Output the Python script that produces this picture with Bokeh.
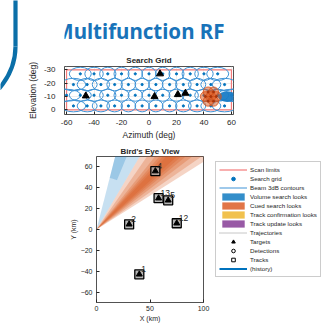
import numpy as np
from bokeh.plotting import figure
from bokeh.models import Range1d, Legend, LegendItem, Label
from bokeh.layouts import row, column
from bokeh.embed import file_html
from bokeh.resources import INLINE
from bokeh.core.properties import value

# ---------------- data ----------------
title_text = "Multifunction RF"

# Search grid (azimuth / elevation, deg)
grid_rows_el = [-27, -19, -11, -3]
grid_rows_az = [
    [-50, -40, -30, -20, -10, 0, 10, 20, 30, 40, 50],
    [-55, -45, -35, -25, -15, -5, 5, 15, 25, 35, 45, 55],
    [-60, -50, -40, -30, -20, -10, 0, 10, 20, 30, 40, 50, 60],
    [-55, -45, -35, -25, -15, -5, 5, 15, 25, 35, 45, 55],
]
scan_az_limits = [-60, 60]
scan_el_limits = [-30, 0]
sg_target_az = [-46, 4, 8, 21, 26.5]
sg_target_el = [-10.5, -10, -27, -11.5, -12.5]
cued_az = [45, 41, 49, 43, 47, 43, 47]
cued_el = [-10, -10, -10, -13.5, -13.5, -6.5, -6.5]
volume_az = [57]
volume_el = [-10]
sg_xticks = [-60, -40, -20, 0, 20, 40, 60]
sg_xtick_labels = ["-60", "-40", "-20", "0", "20", "40", "60"]
sg_yticks = [-30, -20, -10, 0]
sg_ytick_labels = ["-30", "-20", "-10", "0"]

# Bird's eye view (km)
bev_x = [40, 30.5, 55, 67, 58, 75]
bev_y = [-43, 5, 56, 28, 30, 6]
track_ids = ["1", "2", "4", "5", "13", "12"]
volume_wedge_start = [60, 68]
volume_wedge_end = [76, 76]
volume_wedge_r0 = [0, 51]
cued_wedge_start = [33, 35.5, 38, 40, 41.5, 43]
cued_wedge_end = [60, 56, 52, 50, 48.5, 47]
bev_xticks = [0, 50, 100]
bev_yticks = [-60, -40, -20, 0, 20, 40, 60]

legend_labels = ["Scan limits", "Search grid", "Beam 3dB contours",
                 "Volume search looks", "Cued search looks",
                 "Track confirmation looks", "Track update looks",
                 "Trajectories", "Targets", "Detections", "Tracks", "(history)"]

# ---------------- styles ----------------
FONT = "Liberation Sans"
AX = "#262626"
BLUE = "#0072BD"
ORANGE = "#D95319"
YELLOW = "#EDB120"
PURPLE = "#7E2F8E"
SCAN = "#F47A7A"
CONTOUR = "#3F93D6"


def style_axes(p, fs_tick, fs_label):
    p.outline_line_color = AX
    p.outline_line_width = 0.8
    for ax in (p.xaxis[0], p.yaxis[0]):
        ax.axis_line_color = None
        ax.major_tick_in = 3
        ax.major_tick_out = 0
        ax.major_tick_line_color = AX
        ax.minor_tick_line_color = None
        ax.major_label_text_font = FONT
        ax.major_label_text_font_size = fs_tick
        ax.major_label_text_color = AX
        ax.axis_label_text_font = FONT
        ax.axis_label_text_font_size = fs_label
        ax.axis_label_text_font_style = "normal"
        ax.axis_label_text_color = AX
    p.title.text_font = FONT
    p.title.text_font_size = "8px"
    p.title.text_font_style = "bold"
    p.title.text_color = AX
    p.title.align = "center"


def blank(p):
    p.outline_line_color = None
    p.grid.visible = False


# ---------------- left bracket strip ----------------
strip = figure(width=22, height=90, x_range=Range1d(0, 22), y_range=Range1d(90, 0),
               min_border=0, x_axis_location=None, y_axis_location=None,
               output_backend="svg", toolbar_location=None)
blank(strip)
strip.segment(x0=[15], y0=[-5], x1=[15], y1=[46], line_color="#0b6fa8", line_width=4.2)
strip.quadratic(x0=[15], y0=[46], x1=[-3], y1=[90], cx=[15], cy=[70],
                line_color="#0b6fa8", line_width=4.2)

# ---------------- header ----------------
header = figure(width=300, height=48, x_range=Range1d(22, 322), y_range=Range1d(48, 0),
                min_border=0, x_axis_location=None, y_axis_location=None,
                output_backend="svg", toolbar_location=None)
blank(header)
header.add_layout(Label(x=155, y=30, text=title_text, text_font="Noto Sans",
                        text_font_style="bold", text_font_size="20.5px", text_color="#1873b9",
                        text_align="center", text_baseline="alphabetic"))

# ---------------- search grid ----------------
sg = figure(width=300, height=94, x_range=Range1d(-61.5, 61.5), y_range=Range1d(3.4, -32.5),
            min_border_left=42, min_border_right=89, min_border_top=18, min_border_bottom=26,
            title="Search Grid", output_backend="svg", toolbar_location=None)
style_axes(sg, "8px", "8.5px")
sg.title.standoff = 4
sg.xaxis.ticker = sg_xticks
sg.xaxis.major_label_overrides = dict(zip(sg_xticks, sg_xtick_labels))
sg.yaxis.ticker = sg_yticks
sg.yaxis.major_label_overrides = dict(zip(sg_yticks, sg_ytick_labels))
sg.xaxis.axis_label = "Azimuth (deg)"
sg.yaxis.axis_label = "Elevation (deg)"
sg.xaxis.major_label_standoff = 5
sg.xaxis.axis_label_standoff = 2
sg.yaxis.major_label_standoff = 9
sg.yaxis.axis_label_standoff = 3
sg.grid.grid_line_color = "#e3e3e3"
sg.grid.grid_line_width = 0.6

g_az, g_el = [], []
for el, azs in zip(grid_rows_el, grid_rows_az):
    for az in azs:
        g_az.append(az)
        g_el.append(el)
g_az = np.array(g_az, dtype=float)
g_el = np.array(g_el, dtype=float)
beam_w = 10.3 / np.cos(np.radians(g_az))
beam_h = 8.8 / np.cos(np.radians(g_el))

sx = [scan_az_limits[0], scan_az_limits[1], scan_az_limits[1], scan_az_limits[0], scan_az_limits[0]]
sy = [scan_el_limits[0], scan_el_limits[0], scan_el_limits[1], scan_el_limits[1], scan_el_limits[0]]
sg.line(sx, sy, line_color=SCAN, line_width=1.2)
sg.ellipse(x=g_az, y=g_el, width=beam_w, height=beam_h, fill_color=None,
           line_color=CONTOUR, line_width=1.0)
sg.scatter(g_az, g_el, size=2.2, color=BLUE)
sg.ellipse(x=volume_az, y=volume_el, width=13, height=8, fill_color="#1a7cc6",
           fill_alpha=0.95, line_color=None)
sg.circle(x=cued_az, y=cued_el, radius=3.6, fill_color=ORANGE, fill_alpha=0.5,
          line_color=ORANGE, line_width=0.8)
sg.scatter(cued_az, cued_el, size=2, color="#a8340c")
sg.scatter(sg_target_az, sg_target_el, marker="triangle", size=7, color="black")

# ---------------- bird's eye view ----------------
bev = figure(width=188, height=182, x_range=Range1d(0, 100), y_range=Range1d(-70, 70),
             min_border_left=74, min_border_right=7, min_border_top=14, min_border_bottom=21,
             title="Bird's Eye View", output_backend="svg", toolbar_location=None)
style_axes(bev, "7px", "7px")
bev.title.standoff = 2
bev.grid.visible = False
bev.xaxis.ticker = bev_xticks
bev.yaxis.ticker = bev_yticks
bev.xaxis.axis_label = "X (km)"
bev.yaxis.axis_label = "Y (km)"
bev.xaxis.major_label_standoff = 3
bev.xaxis.axis_label_standoff = 1
bev.yaxis.major_label_standoff = 4
bev.yaxis.axis_label_standoff = 1


def wedge_poly(a0, a1, r0, r1=130, n=40):
    t = np.radians(np.linspace(a0, a1, n))
    xo, yo = r1 * np.cos(t), r1 * np.sin(t)
    if r0 == 0:
        return [0.0, *xo], [0.0, *yo]
    xi, yi = r0 * np.cos(t[::-1]), r0 * np.sin(t[::-1])
    return [*xo, *xi], [*yo, *yi]


vxs, vys = zip(*[wedge_poly(a, b, r) for a, b, r in
                 zip(volume_wedge_start, volume_wedge_end, volume_wedge_r0)])
bev.patches(list(vxs), list(vys), fill_color=BLUE, fill_alpha=0.22, line_color=None)
cxs, cys = zip(*[wedge_poly(a, b, 0) for a, b in zip(cued_wedge_start, cued_wedge_end)])
bev.patches(list(cxs), list(cys), fill_color=ORANGE, fill_alpha=0.25, line_color=None)

bev.scatter(bev_x, bev_y, marker="square", size=9, fill_color="#a8a8a8", fill_alpha=0.85,
            line_color="black", line_width=1.3)
bev.scatter(bev_x, bev_y, marker="triangle", size=6, color="black")
bev.text(bev_x, bev_y, text=track_ids, x_offset=2, y_offset=-5, text_font=value(FONT),
         text_font_size="8.5px", text_color=AX, text_align="left", text_baseline="middle")

# ---------------- legend panel ----------------
lf = figure(width=112, height=182, x_range=Range1d(0, 1), y_range=Range1d(0, 1),
            min_border=0, min_border_top=9, x_axis_location=None, y_axis_location=None,
            output_backend="svg", toolbar_location=None)
blank(lf)
# legend-only renderers: their single sample lies outside the visible range
off_x, off_y = [-5, -4], [-5, -4]
rends = [
    lf.line(off_x, off_y, line_color=SCAN, line_width=1.2),
    lf.scatter(off_x[:1], off_y[:1], size=2.5, color=BLUE),
    lf.line(off_x, off_y, line_color=CONTOUR, line_width=1),
    lf.quad(left=off_x[:1], right=off_x[1:], bottom=off_y[:1], top=off_y[1:],
            fill_color=BLUE, fill_alpha=0.8, line_color=None),
    lf.quad(left=off_x[:1], right=off_x[1:], bottom=off_y[:1], top=off_y[1:],
            fill_color=ORANGE, fill_alpha=0.8, line_color=None),
    lf.quad(left=off_x[:1], right=off_x[1:], bottom=off_y[:1], top=off_y[1:],
            fill_color=YELLOW, fill_alpha=0.8, line_color=None),
    lf.quad(left=off_x[:1], right=off_x[1:], bottom=off_y[:1], top=off_y[1:],
            fill_color=PURPLE, fill_alpha=0.8, line_color=None),
    lf.line(off_x, off_y, line_color="#8c8c8c", line_width=1, line_dash="1 1"),
    lf.scatter(off_x[:1], off_y[:1], marker="triangle", size=6, color="black"),
    lf.scatter(off_x[:1], off_y[:1], marker="circle", size=5, fill_color=None, line_color="black"),
    lf.scatter(off_x[:1], off_y[:1], marker="square", size=6, fill_color=None, line_color="black"),
    lf.line(off_x, off_y, line_color=BLUE, line_width=2),
]
legend = Legend(items=[LegendItem(label=lab, renderers=[r]) for lab, r in zip(legend_labels, rends)],
                location="top_left", label_text_font=FONT, label_text_font_size="6.2px",
                label_text_color=AX, label_height=9, glyph_height=9, glyph_width=28,
                label_standoff=3, spacing=0, padding=3, margin=5,
                border_line_color="#999999", border_line_width=0.8,
                background_fill_color="white", background_fill_alpha=1)
lf.add_layout(legend)

layout = row(strip, column(header, sg, row(bev, lf)))
open("out.html", "w").write(file_html(layout, INLINE))
